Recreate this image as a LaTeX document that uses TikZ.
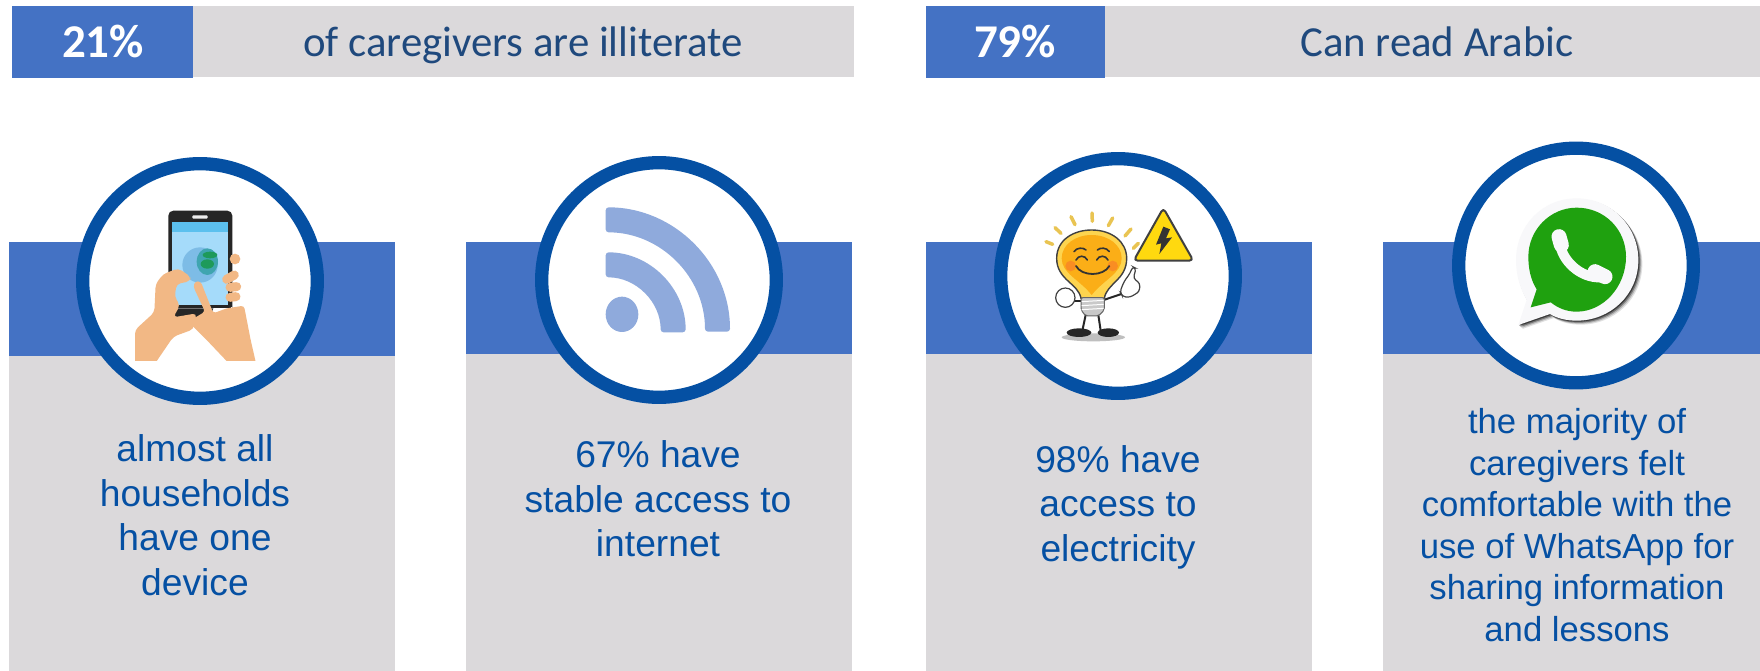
\documentclass[tikz,border=0pt]{standalone}
\usepackage{fontspec}
\setmainfont{Liberation Sans}
\newfontfamily\carlito{Carlito}
\definecolor{barblue}{HTML}{4472C4}
\definecolor{panelgray}{HTML}{DBD9DB}
\definecolor{ringblue}{HTML}{0550A3}
\definecolor{headtext}{HTML}{1F497D}
\definecolor{rssblue}{HTML}{8FAADC}
\definecolor{skin}{HTML}{F2B885}
\definecolor{wagreen}{HTML}{1FA10F}
\definecolor{screenblue}{HTML}{A5DBFA}
\definecolor{screentop}{HTML}{5CC0EE}
\definecolor{globe}{HTML}{7DBCE6}
\definecolor{globeb}{HTML}{3FA5B0}
\definecolor{globec}{HTML}{1E9A5A}
\definecolor{rayc}{HTML}{E9C452}
\definecolor{bulblight}{HTML}{FDD44F}
\definecolor{bulbdeep}{HTML}{FBAE17}
\definecolor{cheek}{HTML}{F9772B}
\definecolor{basegray}{HTML}{C9C9C9}
\definecolor{signyellow}{HTML}{FFD90F}
\definecolor{wawhite}{HTML}{F8F8FA}
\tikzset{
  blueband/.style={fill=barblue,draw=none},
  grayband/.style={fill=panelgray,draw=none},
  ring/.style={draw=ringblue,fill=white,line width=13.3pt},
  paneltext/.style={text=ringblue,align=center,font=\fontsize{37.2}{44.5}\selectfont,inner sep=0pt},
  smalltext/.style={text=ringblue,align=center,font=\fontsize{34.7}{41.6}\selectfont,inner sep=0pt},
  headlabel/.style={text=headtext,anchor=base,font=\carlito\fontsize{42.8}{50}\selectfont,inner sep=0pt},
  headpct/.style={text=white,anchor=base,font=\carlito\bfseries\fontsize{47}{50}\selectfont,inner sep=0pt},
  icon/.style={x=0.33333pt,y=-0.33333pt}
}
\begin{document}
\begin{tikzpicture}[x=1pt,y=-1pt]
\useasboundingbox (0,0) rectangle (1760,671);
% header bars
\fill[grayband] (193,6) rectangle (854,77);
\fill[blueband] (12,6) rectangle (193,78);
\fill[grayband] (1105,6) rectangle (1760,77);
\fill[blueband] (926,6) rectangle (1105,78);
\node[headpct] (p21) at (103,58) {21\%};
\node[headlabel] (h1) at (523,57) {of caregivers are illiterate};
\node[headpct] (p79) at (1015,58) {79\%};
\node[headlabel] (h2) at (1437,57) {Can read Arabic};
% panels
\fill[grayband] (9,356) rectangle (395,671);
\fill[blueband] (9,242) rectangle (395,356);
\fill[grayband] (466,354) rectangle (852,671);
\fill[blueband] (466,242) rectangle (852,354);
\fill[grayband] (926,354) rectangle (1312,671);
\fill[blueband] (926,242) rectangle (1312,354);
\fill[grayband] (1383,354) rectangle (1760,671);
\fill[blueband] (1383,242) rectangle (1760,354);
% rings
\draw[ring] (200,281) circle (117.3);
\draw[ring] (659,280) circle (117.3);
\draw[ring] (1118,276) circle (117.3);
\draw[ring] (1576,265.5) circle (117.3);
% texts
\node[paneltext] (t1) at (195,515) {almost all\\households\\have one\\device};
\node[paneltext] (t2) at (658,499) {67\% have\\stable access to\\internet};
\node[paneltext] (t3) at (1118,507) {98\% have\\access to\\electricity};
\node[smalltext] (t4) at (1577,525) {the majority of\\caregivers felt\\comfortable with the\\use of WhatsApp for\\sharing information\\and lessons};
% phone icon
\begin{scope}[shift={(0pt,-140pt)},icon]
\clip (395,200) rectangle (780,662);
\fill[black!85,rounded corners=5pt] (505,212) rectangle (697,540);
\fill[white] (505,500) rectangle (697,545);
\fill[black!85] (510,495) rectangle (692,505);
\fill[black!85] (520,505) -- (640,505) -- (625,540) -- (515,540) -- cycle;
\fill[white!85!gray,rounded corners=1pt] (577,226) rectangle (623,236);
\fill[screenblue] (517,245) rectangle (685,495);
\fill[screentop] (517,245) rectangle (685,275);
\fill[globe] (600,375) circle (53);
\fill[globeb] (622,365) ellipse (32 and 40);
\fill[globec] (622,372) ellipse (20 and 14);
\fill[globec] (630,345) ellipse (22 and 10);
% right fingers
\fill[skin] (705,357) circle (16);
\draw[skin,line width=9pt,line cap=round] (680,418) -- (703,405);
\draw[skin,line width=9pt,line cap=round] (690,442) -- (710,440);
\draw[skin,line width=9pt,line cap=round] (690,472) -- (708,470);
% left hand
\fill[skin,rounded corners=4pt] (405,700) -- (405,570) -- (463,517) -- (467,432) -- (490,402) -- (535,385) -- (572,410) -- (570,424) -- (530,432) -- (524,470) -- (540,496) -- (520,532) -- (590,520) -- (580,568) -- (520,590) -- (445,700) -- cycle;
% right hand
\fill[skin,rounded corners=3pt] (585,424) -- (602,424) -- (640,520) -- (680,505) -- (732,497) -- (752,600) -- (775,700) -- (715,700) -- (620,600) -- (565,545) -- (615,515) -- (580,440) -- cycle;
\end{scope}
% rss icon
\begin{scope}[shift={(450pt,-140pt)},icon]
\fill[rssblue,rounded corners=3pt] (467,202) arc[start angle=-90,end angle=0,radius=373] -- (765,575) arc[start angle=0,end angle=-90,radius=298] -- cycle;
\fill[rssblue,rounded corners=3pt] (467,337) arc[start angle=-90,end angle=0,radius=240] -- (632,577) arc[start angle=0,end angle=-90,radius=165] -- cycle;
\fill[rssblue] (516,523) ellipse (49 and 53);
\end{scope}
% bulb icon
\begin{scope}[shift={(920pt,-140pt)},icon]
\foreach \a/\b/\c/\d in {378/305/398/313,405/263/423/280,453/230/465/254,516/219/517/244,578/234/565/257,633/267/615/288,655/310/640/325}
  \draw[rayc,line width=3.5pt,line cap=round] (\a,\b) -- (\c,\d);
% shadow and feet
\fill[black!25] (520,592) ellipse (95 and 12);
\fill[black!85] (477,578) ellipse (37 and 13);
\fill[black!85] (565,578) ellipse (32 and 13);
\draw[black!85,line width=2pt] (497,525) -- (487,572);
\draw[black!85,line width=2pt] (535,525) -- (542,572);
% arms
\draw[black!85,line width=2pt] (450,482) -- (490,482);
\draw[black!85,line width=2pt] (545,482) -- (610,460);
% bulb
\fill[bulblight,draw=black!75,line width=1.4pt] (483,475) .. controls (475,430) and (410,420) .. (410,355) .. controls (410,300) and (460,270) .. (515,270) .. controls (575,270) and (620,305) .. (620,355) .. controls (620,420) and (560,430) .. (553,475) -- cycle;
\fill[bulbdeep] (515,285) .. controls (465,285) and (425,315) .. (425,355) .. controls (425,400) and (480,420) .. (515,465) .. controls (550,420) and (605,400) .. (605,355) .. controls (605,315) and (565,285) .. (515,285) -- cycle;
\fill[cheek,opacity=.6] (452,378) circle (16);
\fill[cheek,opacity=.6] (578,378) circle (16);
\draw[black!80,line width=1.6pt,line cap=round] (462,335) .. controls (470,322) and (490,322) .. (498,330);
\draw[black!80,line width=1.6pt,line cap=round] (532,330) .. controls (540,322) and (560,322) .. (568,335);
\draw[black!80,line width=1.6pt,line cap=round] (468,360) .. controls (475,345) and (495,345) .. (502,360);
\draw[black!80,line width=1.6pt,line cap=round] (530,360) .. controls (537,345) and (557,345) .. (564,360);
\draw[black!80,line width=1.8pt,line cap=round] (468,378) .. controls (485,410) and (550,410) .. (568,378);
% base
\fill[basegray,draw=black!60,line width=1pt,rounded corners=2pt] (483,473) -- (553,473) -- (553,510) -- (535,528) -- (497,528) -- (483,510) -- cycle;
\foreach \y in {485,497,509} \draw[white,line width=1pt] (485,\y) -- (551,\y-4);
% gloves
\fill[white,draw=black!75,line width=1.2pt] (436,473) circle (29);
\fill[white,draw=black!75,line width=1.2pt,rounded corners=3pt] (600,455) -- (612,425) -- (630,400) -- (638,380) -- (648,385) -- (640,415) -- (660,430) -- (658,455) -- (630,472) -- (608,470) -- cycle;
% warning sign
\fill[signyellow,draw=black!75,line width=2pt,rounded corners=4pt,line join=round] (730,204) -- (820,362) -- (641,362) -- cycle;
\fill[black!80] (730,260) -- (750,268) -- (738,295) -- (756,292) -- (718,342) -- (724,310) -- (708,314) -- cycle;
\end{scope}
% whatsapp icon
\begin{scope}[shift={(1360pt,-130pt)},icon]
\foreach \o/\k in {12/.12,9/.2,6/.35,3/.5}{
  \fill[black,opacity=\k,shift={(\o*0.33333pt,-\o*0.33333pt)}] (650,205) .. controls (755,205) and (835,290) .. (835,390) .. controls (835,495) and (750,572) .. (650,572) .. controls (620,572) and (590,565) .. (570,552) -- (475,585) -- (500,510) .. controls (480,475) and (468,435) .. (468,390) .. controls (468,290) and (545,205) .. (650,205) -- cycle;
}
\fill[wawhite] (650,205) .. controls (755,205) and (835,290) .. (835,390) .. controls (835,495) and (750,572) .. (650,572) .. controls (620,572) and (590,565) .. (570,552) -- (475,585) -- (500,510) .. controls (480,475) and (468,435) .. (468,390) .. controls (468,290) and (545,205) .. (650,205) -- cycle;
\fill[wagreen] (650,233) .. controls (735,233) and (798,300) .. (798,380) .. controls (798,470) and (730,545) .. (650,545) .. controls (620,545) and (595,535) .. (572,517) -- (512,532) -- (530,478) .. controls (512,450) and (505,415) .. (505,380) .. controls (505,300) and (570,233) .. (650,233) -- cycle;
\draw[wawhite,line width=10pt,line cap=round] (600,340) .. controls (605,390) and (660,445) .. (722,442);
\draw[wawhite,line width=15pt,line cap=round] (597,320) -- (604,345);
\draw[wawhite,line width=15pt,line cap=round] (705,425) -- (735,440);
\end{scope}
\end{tikzpicture}
\end{document}
